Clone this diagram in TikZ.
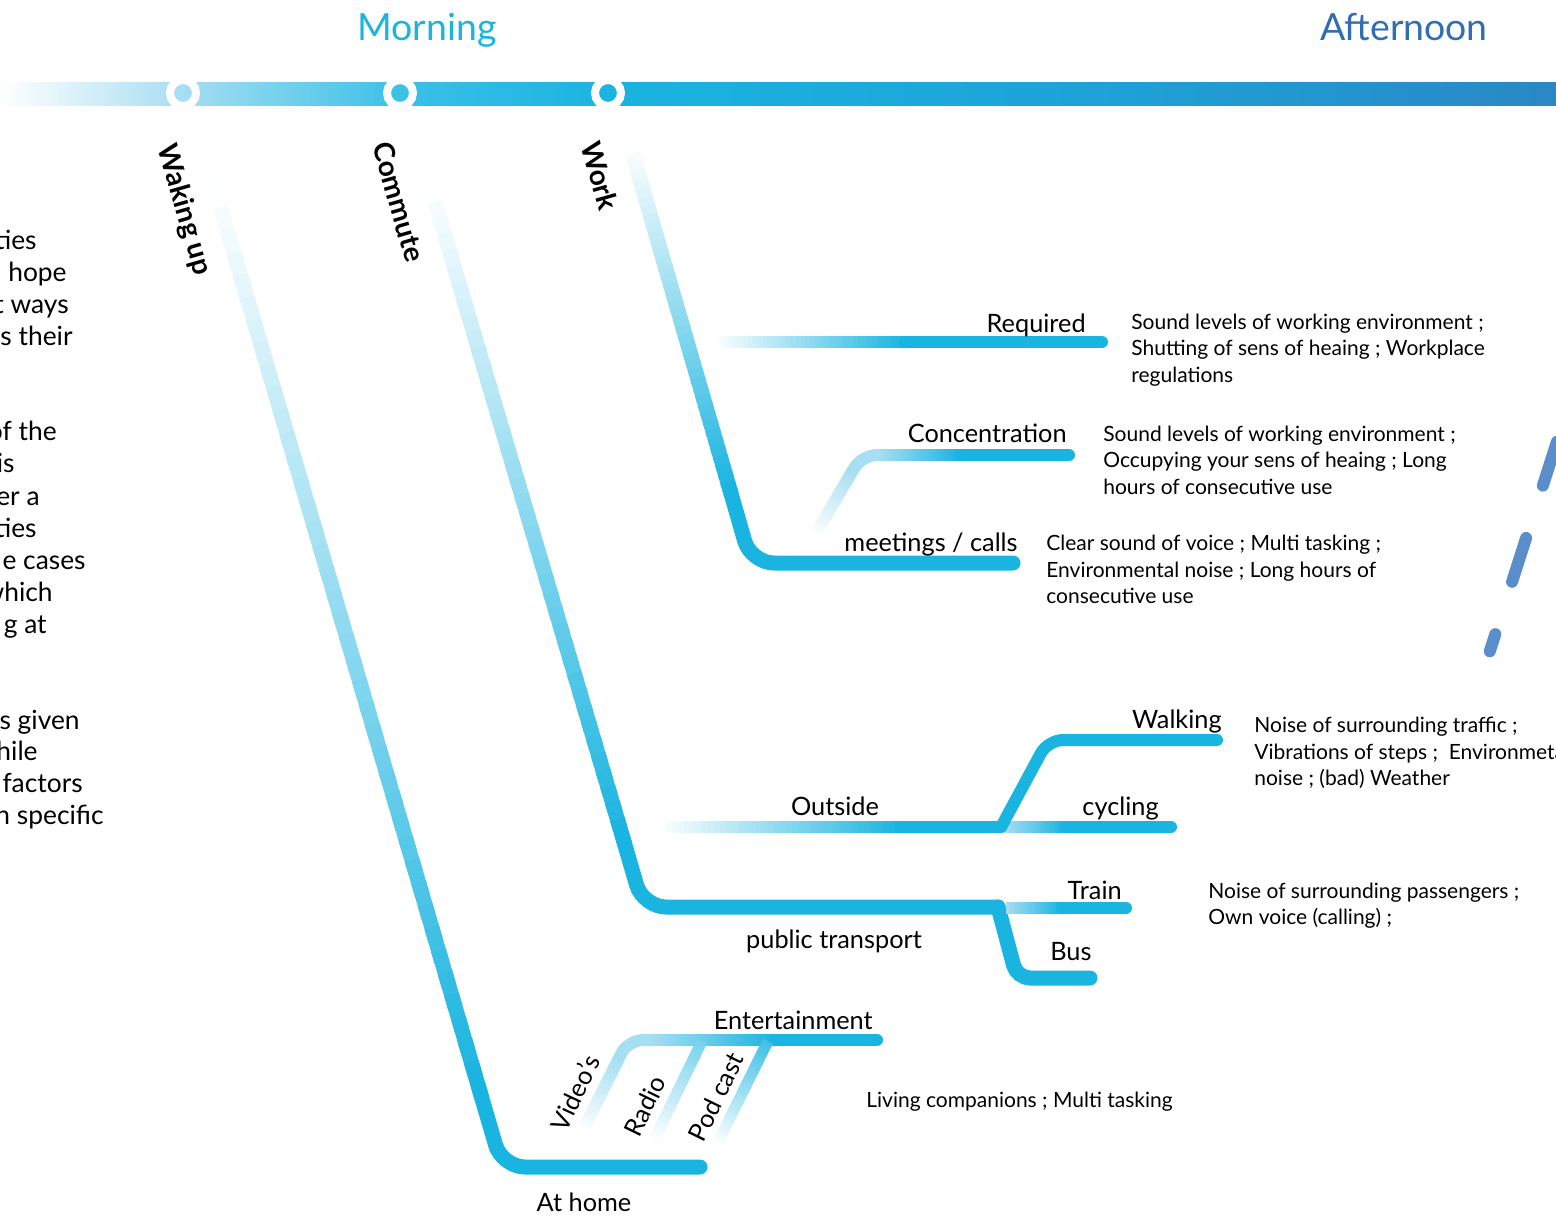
\documentclass[tikz,border=0pt]{standalone}
\usepackage{fontspec}
\setmainfont{Lato}
\usetikzlibrary{calc}

\definecolor{trackblue}{HTML}{1AB4E0}
\definecolor{tlight}{HTML}{A6DEF2}
\definecolor{barmid}{HTML}{3CC0E7}
\definecolor{barlate}{HTML}{1EA2D7}
\definecolor{barend}{HTML}{2A88C4}
\definecolor{pmblue}{HTML}{2F6DB4}
\definecolor{dashblue}{HTML}{5A8ECB}
\colorlet{radiotop}{trackblue!60!white}
\colorlet{podtop}{trackblue!85!white}

% time bar colours, path mapped onto 25bp..75bp
\pgfdeclarehorizontalshading{barshade}{100bp}{%
  color(0bp)=(white); color(25bp)=(white); color(30.88bp)=(tlight);
  color(37.85bp)=(barmid); color(44.54bp)=(trackblue);
  color(60.35bp)=(barlate); color(75bp)=(barend); color(100bp)=(barend)}

% stroke from #2 to #3, colour running from #4 to #5
\newcommand\fadeline[5][3mm]{%
  \foreach \k in {1,...,40}{%
    \pgfmathsetmacro\fpa{(\k-1)/40}%
    \pgfmathsetmacro\fpb{(\k+0.6)/40}%
    \pgfmathsetmacro\fpc{100*(\k-0.5)/40}%
    \draw[line width=#1, draw=#5!\fpc!#4] ($(#2)!\fpa!(#3)$) -- ($(#2)!\fpb!(#3)$);
  }%
}

\begin{document}
\begin{tikzpicture}[
  x=0.2mm, y=-0.2mm,
  trk/.style={draw=trackblue, line width=3mm, line cap=round, rounded corners=4.6mm},
  br/.style={trk, line width=2.4mm, rounded corners=3mm},
  stn/.style={circle, draw=white, line width=1.6mm, minimum size=5.2mm, inner sep=0pt},
  stage/.style={font=\fontsize{16}{19}\selectfont\bfseries, rotate=-74, inner sep=0pt},
  lbl/.style={font=\fontsize{14.4}{17}\selectfont, inner sep=0pt},
  desc/.style={font=\fontsize{11.95}{14.8}\selectfont, inner sep=0pt, align=left, anchor=base west},
  part/.style={font=\fontsize{15}{18.2}\selectfont, inner sep=0pt, anchor=base east},
  period/.style={font=\fontsize{21.3}{25}\selectfont, inner sep=0pt, anchor=base}
]
\useasboundingbox (0,0) rectangle (1556,1215);
\clip (0,0) rectangle (1556,1215);

% --- Coordinates ---
% time bar
\coordinate (t0) at (0,82);
\coordinate (t1) at (183,93);
\coordinate (t2) at (400,93);
\coordinate (t3) at (608,93);
\coordinate (t5) at (1556,105);
% waking up
\coordinate (wk1) at (214,185);
\coordinate (wk2) at (478,1085);
\coordinate (wk3) at (502,1167);
\coordinate (wk4) at (700,1167);
% entertainment at home
\coordinate (en0) at (652,1040);
\coordinate (en1) at (628,1040);
\coordinate (en2) at (775,1040);
\coordinate (en3) at (877,1040);
\coordinate (vd1) at (619,1058);
\coordinate (vd2) at (582,1132);
\coordinate (ra1) at (702,1041);
\coordinate (ra2) at (654,1140);
\coordinate (pc1) at (768,1041);
\coordinate (pc2) at (717,1144);
% commute
\coordinate (cm1) at (430,185);
\coordinate (cm2) at (622,835);
\coordinate (cm3) at (643,907);
\coordinate (cm4) at (998,907);
\coordinate (cm5) at (1017,978);
\coordinate (cm6) at (1090,978);
\coordinate (tr1) at (1006,908);
\coordinate (tr2) at (1062,908);
\coordinate (tr3) at (1126,908);
\coordinate (ou1) at (660,827);
\coordinate (ou2) at (900,827);
\coordinate (ou3) at (1001,827);
\coordinate (wa1) at (1048,740);
\coordinate (wa2) at (1217,740);
\coordinate (cy1) at (1005,827);
\coordinate (cy2) at (1065,827);
\coordinate (cy3) at (1171,827);
% work
\coordinate (wo1) at (630,145);
\coordinate (wo2) at (730,490);
\coordinate (wo3) at (751,563);
\coordinate (wo4) at (1013,563);
\coordinate (rq1) at (715,342);
\coordinate (rq2) at (905,342);
\coordinate (rq3) at (1102,342);
\coordinate (cc1) at (815,535);
\coordinate (cc2) at (853,470);
\coordinate (cc3) at (862,455);
\coordinate (cc4) at (880,455);
\coordinate (cc5) at (960,455);
\coordinate (cc6) at (1069,455);
% afternoon
\coordinate (af1) at (1489.8,651.3);
\coordinate (af2) at (1569,404);

% --- Time bar ---
\shade[shading=barshade] (t0) rectangle (t5);
\node[stn] (wake) at (t1) {};
\node[stn] (comm) at (t2) {};
\node[stn] (work) at (t3) {};

% --- Waking up ---
\fadeline{wk1}{wk2}{white}{trackblue}
\draw[trk] (wk2) -- (wk3) -- (wk4);
\draw[br, draw=tlight] (en0) -- (en1) -- (vd1);
\fadeline[2.4mm]{vd1}{vd2}{tlight}{white}
\fadeline[2.4mm]{en0}{en2}{tlight}{trackblue}
\draw[br] (en2) -- (en3);
\fadeline[2.2mm]{ra1}{ra2}{radiotop}{white}
\fadeline[2.2mm]{pc1}{pc2}{podtop}{white}

% --- Commute ---
\fadeline{cm1}{cm2}{white}{trackblue}
\draw[trk] (cm2) -- (cm3) -- (cm4);
\draw[trk, rounded corners=2.6mm] (cm4) -- (cm5) -- (cm6);
\fadeline[2.4mm]{tr1}{tr2}{tlight}{trackblue}
\draw[br] (tr2) -- (tr3);
\fadeline[2.4mm]{cy1}{cy2}{tlight}{trackblue}
\draw[br] (cy2) -- (cy3);
\fadeline[2.4mm]{ou1}{ou2}{white}{trackblue}
\draw[br] (ou2) -- (ou3);
\draw[br] (ou3) -- (wa1) -- (wa2);

% --- Work ---
\fadeline{wo1}{wo2}{white}{trackblue}
\draw[trk] (wo2) -- (wo3) -- (wo4);
\fadeline[2.4mm]{rq1}{rq2}{white}{trackblue}
\draw[br] (rq2) -- (rq3);
\fadeline[2.4mm]{cc1}{cc2}{white}{tlight}
\draw[br, draw=tlight] (cc2) -- (cc3) -- (cc4);
\fadeline[2.4mm]{cc4}{cc5}{tlight}{trackblue}
\draw[br] (cc5) -- (cc6);

% --- Afternoon (dashed) ---
\draw[dashblue, line width=2.4mm, line cap=round, dash pattern=on 9.2mm off 11mm, dash phase=5.6mm] (af1) -- (af2);

% --- Titles and stages ---
\node[period, text=trackblue] (morning) at (427,40) {Morning};
\node[period, text=pmblue] (afternoon) at (1404,40) {Afternoon};
\node[stage] (wakelbl) at (184,210) {Waking up};
\node[stage] (commlbl) at (399,202) {Commute};
\node[stage] (worklbl) at (600,176) {Work};

% --- Branch labels ---
\node[lbl, anchor=base east] (reqlbl) at (1086,332) {Required};
\node[lbl, anchor=base east] (conlbl) at (1067,442) {Concentration};
\node[lbl, anchor=base east] (meetlbl) at (1018,551) {meetings / calls};
\node[lbl, anchor=base east] (walklbl) at (1222,728) {Walking};
\node[lbl, anchor=base] (outlbl) at (835,815) {Outside};
\node[lbl, anchor=base east] (cyclbl) at (1159,815) {cycling};
\node[lbl, anchor=base east] (trainlbl) at (1122,899) {Train};
\node[lbl, anchor=base] (publbl) at (834,948) {public transport};
\node[lbl, anchor=base west] (buslbl) at (1050,960) {Bus};
\node[lbl, anchor=base east] (entlbl) at (873,1029) {Entertainment};
\node[lbl, anchor=base] (homelbl) at (584,1211) {At home};
\node[lbl, rotate=65] (vidlbl) at (575,1093) {Video’s};
\node[lbl, rotate=64] (radlbl) at (645,1106) {Radio};
\node[lbl, rotate=64] (podlbl) at (716,1097) {Pod cast};

% --- Descriptions (placed by their last line) ---
\node[desc] (reqtxt) at (1131,382) {Sound levels of working environment ;\\Shutting of sens of heaing ; Workplace\\regulations};
\node[desc] (contxt) at (1103,494) {Sound levels of working environment ;\\Occupying your sens of heaing ; Long\\hours of consecutive use};
\node[desc] (meettxt) at (1046,603) {Clear sound of voice ; Multi tasking ;\\Environmental noise ; Long hours of\\consecutive use};
\node[desc] (walktxt) at (1254,785) {Noise of surrounding traffic ;\\Vibrations of steps ;\ \ Environmeta\\noise ; (bad) Weather};
\node[desc] (traintxt) at (1208,924) {Noise of surrounding passengers ;\\Own voice (calling) ;};
\node[desc] (hometxt) at (866,1107) {Living companions ; Multi tasking};

% --- Side text (cut at the page edge) ---
\foreach \xe/\yb/\txt in {37/249/ties, 67/281/hope, 69/313/t ways, 73/345/s their,
    57/440/of the, 15/472/is, 40/505/er a, 37/537/ties, 86/569/e cases,
    53/601/which, 47/633/g at, 80/729/s given, 38/760/hile, 83/792/factors,
    104/824/n specific}
  \node[part] (side\yb) at (\xe,\yb) {\txt};

\end{tikzpicture}
\end{document}
